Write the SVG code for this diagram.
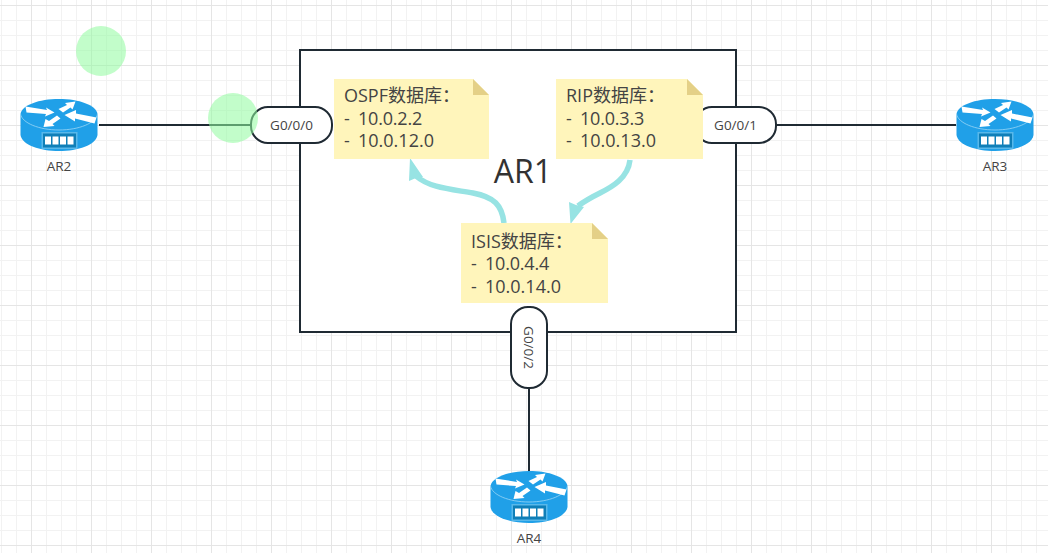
<svg xmlns="http://www.w3.org/2000/svg" width="1048" height="553" viewBox="0 0 1048 553">
<style>
.note-t{font-family:"Open Sans","Noto Sans CJK SC",sans-serif;font-size:18px;fill:#444}
.port{fill:#fff;stroke:#1f2a33;stroke-width:2}
.port-t{font-family:"Open Sans","Noto Sans CJK SC",sans-serif;font-size:13.500px;fill:#444;text-anchor:middle}
.link{fill:none;stroke:#1f2a33;stroke-width:2}
.flow{fill:none;stroke:#97e3e3;stroke-width:5.500}
.head{fill:#97e3e3}
.note{fill:#fff5bb}
.fold{fill:#e4d087}
.dot{fill:#8ffb9f;fill-opacity:.55}
.lbl{font-family:"Open Sans","Noto Sans CJK SC",sans-serif;font-size:13.500px;fill:#444;text-anchor:middle}
.r-body{fill:#20a0e8}
.r-edge{fill:none;stroke:#9bd6f5;stroke-width:.8}
.r-arrow{fill:#fff}
</style>
<defs>
<pattern id="grid" width="60" height="60" patternUnits="userSpaceOnUse" x="1" y="5">
<path d="M.5 0V60M15.5 0V60M45.5 0V60M0 15.5H60M0 30.5H60M0 45.5H60" stroke="#f2f2f2" stroke-width="1" fill="none"/>
<path d="M30.5 0V60M0 .5H60" stroke="#e5e5e5" stroke-width="1" fill="none"/>
</pattern>
<g id="router">
<path class="r-body" d="M.5 15C2 6 19 0 39 0S76 6 77.500 15V36C76 46 58 52 39 52S2 46 .5 36Z"/>
<path class="r-edge" d="M.5 15C2 24 19 31 39 31S76 24 77.500 15"/>
<path class="r-arrow" d="M5.500 7.500L27 11L26 8.500L34.500 13.500L25 17.500L26 15L6.500 13.500Z"/>
<path class="r-arrow" d="M38.500 10L47 6L45 4L55.500 2.500L52.500 10.500L50.500 8.500L43 13.500Z"/>
<path class="r-arrow" d="M44.500 16L56 11L56 14.500L76.500 18.500L74.500 24.500L55 19.500L55 22.500Z"/>
<path class="r-arrow" d="M23.500 28L25.500 20L29 22L37 16.500L40.500 19.500L32.500 25L34.500 27Z"/>
<rect x="21.500" y="33" width="36" height="17" fill="#58b8ea"/>
<rect x="23" y="34.500" width="33" height="14" fill="#0f7fb8"/>
<rect x="25" y="37.500" width="6" height="8" fill="#fff"/><rect x="32.500" y="37.500" width="6" height="8" fill="#fff"/><rect x="40" y="37.500" width="6" height="8" fill="#fff"/><rect x="47.500" y="37.500" width="6" height="8" fill="#fff"/>
</g>
</defs>
<rect width="1048" height="553" fill="#fff"/>
<rect width="1048" height="553" fill="url(#grid)"/>
<g id="AR1-frame">
<rect x="300" y="50" width="436" height="282" fill="#fff" stroke="#1f2a33" stroke-width="2"/>
<text x="523" y="183" font-size="32" text-anchor="middle" fill="#323232" style="font-family:'Open Sans',sans-serif">AR1</text>
</g>
<g id="connectors">
<path class="link" d="M99 125H251"/>
<path class="link" d="M776 125H956"/>
<path class="link" d="M529 388V472"/>
<path class="flow" d="M504 223C502 205 494 197 473 193C450 189 430 188 416 176"/>
<path class="head" d="M410 158L423 177L416 178L409 181Z"/>
<path class="flow" d="M630 160C628 178 612 187 600 193C590 198 586 200 578 206"/>
<path class="head" d="M570.500 224L569 202L576 205L584 207Z"/>
</g>
<g id="port-g000"><rect class="port" x="251" y="107" width="81" height="36" rx="17"/><text class="port-t" x="291.500" y="129.500">G0/0/0</text></g>
<g id="port-g001"><rect class="port" x="695" y="107" width="81" height="36" rx="17"/><text class="port-t" x="735.500" y="129.500">G0/0/1</text></g>
<g id="port-g002"><rect class="port" x="511" y="307" width="36" height="81" rx="17"/><text class="port-t" transform="translate(524 347.500) rotate(90)">G0/0/2</text></g>
<g id="ospf-db">
<path class="note" d="M334 79H473L489 95V159H334Z"/><path class="fold" d="M473 79L489 95H473Z"/>
<text class="note-t" x="344" y="102">OSPF数据库：</text><text class="note-t" x="344" y="125">-<tspan x="358" letter-spacing="-.2">10.0.2.2</tspan></text><text class="note-t" x="344" y="147">-<tspan x="358">10.0.12.0</tspan></text>
</g>
<g id="rip-db">
<path class="note" d="M556 79H687L703 95V159H556Z"/><path class="fold" d="M687 79L703 95H687Z"/>
<text class="note-t" x="566" y="102">RIP数据库：</text><text class="note-t" x="566" y="125">-<tspan x="580" letter-spacing="-.2">10.0.3.3</tspan></text><text class="note-t" x="566" y="147">-<tspan x="580">10.0.13.0</tspan></text>
</g>
<g id="isis-db">
<path class="note" d="M461 223H592L608 239V303H461Z"/><path class="fold" d="M592 223L608 239H592Z"/>
<text class="note-t" x="471" y="248">ISIS数据库：</text><text class="note-t" x="471" y="270">-<tspan x="485" letter-spacing="-.2">10.0.4.4</tspan></text><text class="note-t" x="471" y="293">-<tspan x="485">10.0.14.0</tspan></text>
</g>
<g id="AR2"><use href="#router" x="20" y="99"/><text class="lbl" x="59" y="171">AR2</text></g>
<g id="AR3"><use href="#router" x="956" y="99"/><text class="lbl" x="995" y="171">AR3</text></g>
<g id="AR4"><use href="#router" x="490" y="471"/><text class="lbl" x="529" y="543">AR4</text></g>
<g id="highlights">
<circle class="dot" cx="101" cy="51" r="25"/>
<circle class="dot" cx="233" cy="118" r="25"/>
</g>
</svg>
